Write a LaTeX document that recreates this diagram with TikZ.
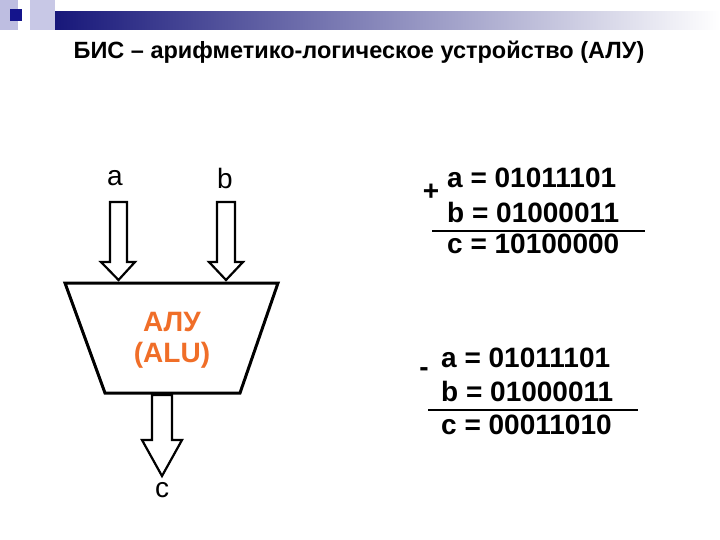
\documentclass[tikz,border=0pt]{standalone}
\usepackage{fontspec}
\setmainfont{Liberation Sans}
\definecolor{navy}{RGB}{20,20,120}
\definecolor{sqa}{RGB}{190,190,225}
\definecolor{sqb}{RGB}{200,200,230}
\definecolor{sqc}{RGB}{20,20,140}
\definecolor{orng}{RGB}{240,110,40}
\begin{document}
\begin{tikzpicture}[x=1pt,y=-1pt,
  arr/.style={draw=black,line width=2.2pt,fill=white,line join=miter},
  num/.style={font=\fontsize{28}{30}\selectfont\bfseries,anchor=west,inner sep=0},
  lbl/.style={font=\fontsize{28}{30}\selectfont,inner sep=0}]
\useasboundingbox (0,0) rectangle (720,540);
\shade[left color=navy,right color=white] (45,12) rectangle (720,30);
\fill[sqa] (0,0) rectangle (18,30);
\fill[sqb] (30,0) rectangle (55,30);
\fill[sqc] (10,9) rectangle (22,21);
\node[font=\fontsize{23.5}{25}\selectfont\bfseries] (title) at (359,52) {БИС – арифметико-логическое устройство (АЛУ)};
% ALU
\draw[line width=3pt] (65,283) -- (278,283) -- (240,393) -- (105,393) -- cycle;
\node[font=\fontsize{28}{31}\selectfont\bfseries,text=orng,align=center] (alu) at (172,340) {АЛУ\\(ALU)};
\node[lbl] (la) at (115,178) {a};
\node[lbl] (lb) at (225,178) {b};
\draw[arr] (110,202) -- (127,202) -- (127,262) -- (135,262) -- (118.5,280) -- (101,262) -- (110,262) -- cycle;
\draw[arr] (217,202) -- (235,202) -- (235,262) -- (243,262) -- (226,280) -- (209,262) -- (217,262) -- cycle;
\draw[arr] (152,395) -- (172,395) -- (172,440) -- (182,440) -- (162,476) -- (142,440) -- (152,440) -- cycle;
\node[lbl] (lc) at (162,490) {c};
% addition
\node[num] (a1) at (447,178) {a = 01011101};
\node[num] (b1) at (447,212) {b = 01000011};
\node[num] (c1) at (447,244) {c = 10100000};
\node[font=\fontsize{28}{30}\selectfont\bfseries] (p) at (431,192) {+};
\coordinate (l1s) at (432,231); \coordinate (l1e) at (645,231);
\draw[line width=1.8pt] (l1s) -- (l1e);
% subtraction
\node[num] (a2) at (441,358) {a = 01011101};
\node[num] (b2) at (441,391) {b = 01000011};
\node[num] (c2) at (441,425) {c = 00011010};
\node[font=\fontsize{28}{30}\selectfont\bfseries] (m) at (424,372) {-};
\coordinate (l2s) at (428,410); \coordinate (l2e) at (638,410);
\draw[line width=1.8pt] (l2s) -- (l2e);
\end{tikzpicture}
\end{document}
